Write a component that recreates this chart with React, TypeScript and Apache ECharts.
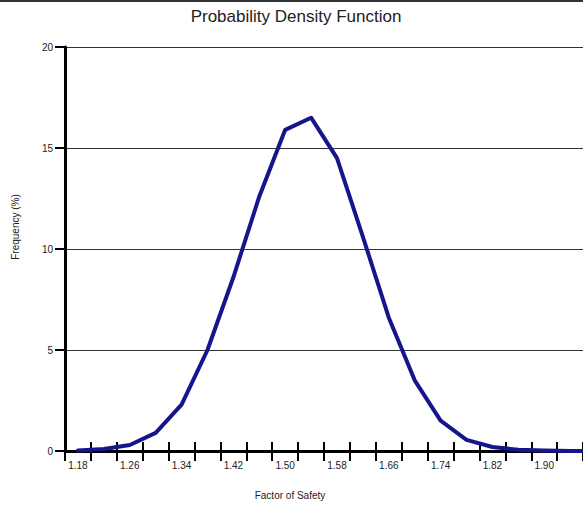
import React, { useEffect, useRef } from "react";
import * as echarts from "echarts";

// Bin labels (upper edge of each 0.04-wide bin of Factor of Safety)
const binLabels = [
  "1.18", "1.22", "1.26", "1.30", "1.34", "1.38", "1.42", "1.46", "1.50", "1.54",
  "1.58", "1.62", "1.66", "1.70", "1.74", "1.78", "1.82", "1.86", "1.90", "1.94", "1.98",
];

// Frequency (%) per bin
const frequency = [
  0.02, 0.1, 0.3, 0.9, 2.3, 5.0, 8.6, 12.6, 15.9, 16.5,
  14.5, 10.6, 6.6, 3.5, 1.5, 0.55, 0.2, 0.06, 0.02, 0.0, 0.0,
];

// Tick labels that are visible in the picture (every other bin)
const shownLabels = ["1.18", "1.26", "1.34", "1.42", "1.50", "1.58", "1.66", "1.74", "1.82", "1.90"];

const yMin = 0;
const yMax = 20;
const yStep = 5;

const titleText = "Probability Density Function";
const xName = "Factor of Safety";
const yName = "Frequency (%)";

const FONT = "'Liberation Sans', Arial, sans-serif";

export default function App() {
  const ref = useRef<HTMLDivElement>(null);

  useEffect(() => {
    if (!ref.current) return;
    const chart = echarts.init(ref.current, undefined, { renderer: "svg" });
    chart.setOption({
      animation: false,
      backgroundColor: "#ffffff",
      title: {
        text: titleText,
        left: 291,
        textAlign: "center",
        top: 3,
        textStyle: { fontFamily: FONT, fontSize: 17, fontWeight: "normal", color: "#222" },
      },
      graphic: [
        {
          type: "rect",
          left: 0,
          top: 0,
          shape: { width: 609, height: 2 },
          style: { fill: "#333" },
        },
      ],
      grid: { left: 65, right: 0, top: 47, bottom: 52 },
      xAxis: [
        {
          type: "category",
          data: binLabels,
          boundaryGap: true,
          position: "bottom",
          name: xName,
          nameLocation: "middle",
          nameGap: 39,
          nameTextStyle: { fontFamily: FONT, fontSize: 10, color: "#222", padding: [0, 94, 0, 0] },
          axisLine: { show: true, lineStyle: { color: "#000", width: 3 } },
          axisTick: { show: true, interval: 0, length: 10, lineStyle: { color: "#000", width: 2 } },
          axisLabel: {
            interval: (_i: number, value: string) => shownLabels.indexOf(value) >= 0,
            margin: 9,
            fontFamily: FONT,
            fontSize: 10,
            color: "#222",
          },
          splitLine: { show: false },
        },
        {
          type: "category",
          data: binLabels,
          boundaryGap: true,
          position: "bottom",
          offset: 0,
          axisLine: { show: false },
          axisTick: { show: true, inside: true, interval: 0, length: 9, lineStyle: { color: "#000", width: 2 } },
          axisLabel: { show: false },
          splitLine: { show: false },
        },
      ],
      yAxis: {
        type: "value",
        min: yMin,
        max: yMax,
        interval: yStep,
        name: yName,
        nameLocation: "middle",
        nameGap: 45,
        nameTextStyle: { fontFamily: FONT, fontSize: 10, color: "#222", padding: [0, 0, 0, 44] },
        axisLine: { show: true, lineStyle: { color: "#000", width: 3 } },
        axisTick: { show: true, length: 10, lineStyle: { color: "#000", width: 2 } },
        axisLabel: { margin: 12, fontFamily: FONT, fontSize: 10, color: "#222" },
        splitLine: { show: true, lineStyle: { color: "#333", width: 1 } },
      },
      series: [
        {
          type: "line",
          xAxisIndex: 0,
          data: frequency,
          symbol: "none",
          smooth: false,
          lineStyle: { color: "#16168c", width: 4, join: "round", cap: "round" },
          z: 5,
        },
      ],
    });
    return () => chart.dispose();
  }, []);

  return (
    <div
      ref={ref}
      style={{ position: "fixed", left: 0, top: 0, width: 609, height: 505, background: "#fff" }}
    />
  );
}
